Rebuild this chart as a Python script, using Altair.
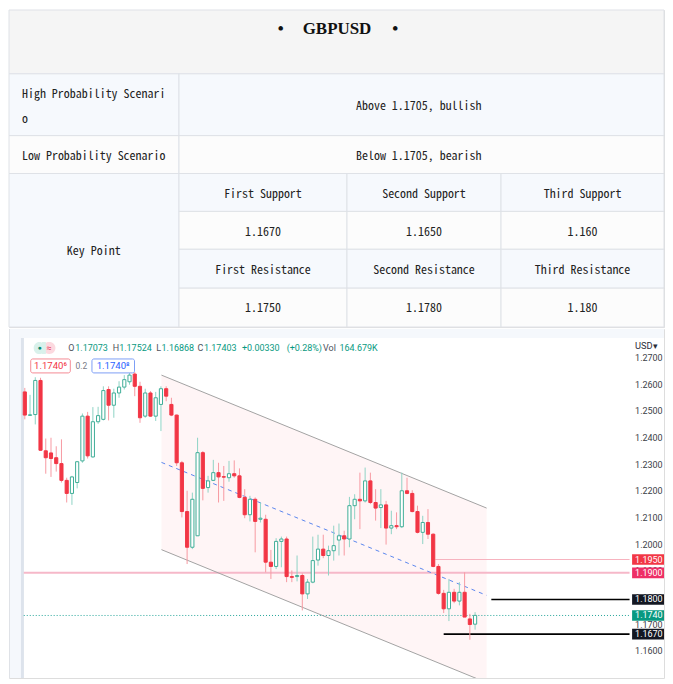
import altair as alt
import pandas as pd

# ---------------- table content ----------------
title_text = "GBPUSD"
row_labels = ["High Probability Scenari", "o", "Low Probability Scenario", "Key Point"]
scenario_values = ["Above 1.1705, bullish", "Below 1.1705, bearish"]
support_labels = ["First Support", "Second Support", "Third Support"]
support_values = ["1.1670", "1.1650", "1.160"]
resistance_labels = ["First Resistance", "Second Resistance", "Third Resistance"]
resistance_values = ["1.1750", "1.1780", "1.180"]

# ---------------- candle data ----------------
opens = [1.2579, 1.2491, 1.2494, 1.2622, 1.2358, 1.2350, 1.2332, 1.2310, 1.2247, 1.2198,
         1.2239, 1.2320, 1.2488, 1.2335, 1.2467, 1.2476, 1.2588, 1.2529, 1.2575, 1.2597,
         1.2617, 1.2646, 1.2600, 1.2488, 1.2575, 1.2488, 1.2532, 1.2591, 1.2532, 1.2492,
         1.2313, 1.2130, 1.1996, 1.2039, 1.2351, 1.2220, 1.2247, 1.2276, 1.2261, 1.2257,
         1.2272, 1.2264, 1.2183, 1.2118, 1.2176, 1.2101, 1.2101, 1.1940, 1.1924, 1.2018,
         1.2027, 1.1886, 1.1886, 1.1890, 1.1821, 1.1865, 1.1948, 1.1989, 1.1965, 1.1983,
         1.2023, 1.2039, 1.2027, 1.2152, 1.2176, 1.2170, 1.2245, 1.2164, 1.2145, 1.2155,
         1.2068, 1.2077, 1.2073, 1.2208, 1.2198, 1.2130, 1.2052, 1.2089, 1.2045, 1.1924,
         1.1823, 1.1765, 1.1827, 1.1794, 1.1827, 1.1727, 1.17073]
highs = [1.2594, 1.2568, 1.2634, 1.2632, 1.2404, 1.2407, 1.2375, 1.2401, 1.2257, 1.2264,
         1.2320, 1.2498, 1.2504, 1.2522, 1.2523, 1.2600, 1.2600, 1.2591, 1.2619, 1.2642,
         1.2654, 1.2654, 1.2617, 1.2591, 1.2582, 1.2579, 1.2600, 1.2600, 1.2557, 1.2494,
         1.2320, 1.2208, 1.2201, 1.2407, 1.2357, 1.2264, 1.2324, 1.2313, 1.2301, 1.2320,
         1.2322, 1.2292, 1.2214, 1.2189, 1.2183, 1.2164, 1.2118, 1.1986, 1.2030, 1.2036,
         1.2036, 1.1909, 1.1965, 1.1898, 1.1877, 1.2036, 1.2043, 1.2043, 1.2002, 1.2077,
         1.2085, 1.2058, 1.2185, 1.2195, 1.2276, 1.2295, 1.2276, 1.2214, 1.2214, 1.2170,
         1.2133, 1.2127, 1.2276, 1.2257, 1.2210, 1.2152, 1.2114, 1.2139, 1.2048, 1.1933,
         1.1836, 1.1877, 1.1840, 1.1865, 1.1902, 1.1746, 1.17524]
lows = [1.2476, 1.2489, 1.2457, 1.2358, 1.2272, 1.2260, 1.2280, 1.2239, 1.2164, 1.2155,
        1.2217, 1.2313, 1.2329, 1.2332, 1.2459, 1.2472, 1.2472, 1.2482, 1.2557, 1.2588,
        1.2606, 1.2563, 1.2463, 1.2482, 1.2485, 1.2470, 1.2432, 1.2544, 1.2488, 1.2301,
        1.2108, 1.1933, 1.1989, 1.2039, 1.2172, 1.2201, 1.2245, 1.2164, 1.2170, 1.2242,
        1.2257, 1.2180, 1.2105, 1.2093, 1.1977, 1.2089, 1.1902, 1.1877, 1.1914, 1.1921,
        1.1865, 1.1865, 1.1868, 1.1759, 1.1802, 1.1861, 1.1927, 1.1955, 1.1890, 1.1946,
        1.1965, 1.1965, 1.1996, 1.2101, 1.2064, 1.2164, 1.2158, 1.2096, 1.2068, 1.2006,
        1.2045, 1.2064, 1.2068, 1.2195, 1.2127, 1.2048, 1.2008, 1.2027, 1.1921, 1.1818,
        1.1749, 1.1719, 1.1786, 1.1778, 1.1734, 1.1649, 1.16868]
closes = [1.2492, 1.2493, 1.2622, 1.2360, 1.2332, 1.2329, 1.2310, 1.2247, 1.2198, 1.2260,
          1.2317, 1.2488, 1.2339, 1.2467, 1.2490, 1.2584, 1.2529, 1.2575, 1.2597, 1.2625,
          1.2642, 1.2600, 1.2482, 1.2575, 1.2488, 1.2557, 1.2591, 1.2563, 1.2492, 1.2313,
          1.2130, 1.1996, 1.2176, 1.2351, 1.2217, 1.2245, 1.2276, 1.2260, 1.2259, 1.2272,
          1.2264, 1.2183, 1.2118, 1.2176, 1.2093, 1.2105, 1.1940, 1.1924, 1.2018, 1.2027,
          1.1886, 1.1883, 1.1890, 1.1821, 1.1865, 1.1946, 1.1989, 1.1965, 1.1983, 1.2002,
          1.2039, 1.2027, 1.2152, 1.2176, 1.2170, 1.2245, 1.2164, 1.2143, 1.2155, 1.2068,
          1.2077, 1.2073, 1.2208, 1.2198, 1.2130, 1.2052, 1.2089, 1.2045, 1.1924, 1.1823,
          1.1765, 1.1827, 1.1794, 1.1827, 1.1734, 1.1706, 1.17403]

# channel (bar index, upper price, lower price)
channel_x = [26.1, 88.2]
channel_top = [1.2642, 1.2143]
channel_bot = [1.1987, 1.1488]

# horizontal levels
level_prices = [1.1950, 1.1900, 1.1800, 1.1740, 1.1670]
level_labels = ["1.1950", "1.1900", "1.1800", "1.1740", "1.1670"]
level_start = [78.4, -0.2, 89.1, -0.2, 80.0]
level_box = ["#f23645", "#ee2f66", "#131722", "#089981", "#131722"]

tick_values = [1.27, 1.26, 1.25, 1.24, 1.23, 1.22, 1.21, 1.20, 1.19, 1.18, 1.17, 1.16]

legend_parts = [("O", 59.5, "#50535e"), ("1.17073", 66.5, "#089981"),
                ("H", 104.0, "#50535e"), ("1.17524", 110.5, "#089981"),
                ("L", 147.7, "#50535e"), ("1.16868", 153.0, "#089981"),
                ("C", 189.0, "#50535e"), ("1.17403", 195.5, "#089981"),
                ("+0.00330", 233.6, "#089981"), ("(+0.28%)", 278.5, "#089981"),
                ("Vol", 315.0, "#50535e"), ("164.679K", 331.5, "#089981")]

TEAL = "#3fae98"
RED = "#f23645"
BORDER = "#dfe2e7"
MONO = "Noto Sans Mono CJK SC, Liberation Mono, monospace"

# ================= TABLE =================
W = 657
TH = 318
col_edges = [0, 170.5, 339, 493.5, 657]
row_edges = [0, 64, 126, 164, 202, 240, 279, 318]
LB = "#f6f9fd"
WH = "#fcfcfc"

cells = [
    (0, W, row_edges[0], row_edges[1], "#f5f5f5"),
    (0, col_edges[1], row_edges[1], row_edges[2], LB),
    (col_edges[1], W, row_edges[1], row_edges[2], LB),
    (0, col_edges[1], row_edges[2], row_edges[3], WH),
    (col_edges[1], W, row_edges[2], row_edges[3], WH),
    (0, col_edges[1], row_edges[3], row_edges[7], LB),
]
for r in range(4):
    for c in range(3):
        cells.append((col_edges[c + 1], col_edges[c + 2], row_edges[3 + r], row_edges[4 + r],
                      LB if r % 2 == 0 else WH))
cells_df = pd.DataFrame(cells, columns=["x", "x2", "y", "y2", "fill"])

tx = alt.Scale(domain=[0, W], nice=False, zero=False)
ty = alt.Scale(domain=[0, TH], nice=False, zero=False, reverse=True)

cell_layer = alt.Chart(cells_df).mark_rect(stroke=BORDER, strokeWidth=1).encode(
    x=alt.X("x:Q", scale=tx, axis=None), x2="x2:Q",
    y=alt.Y("y:Q", scale=ty, axis=None), y2="y2:Q",
    fill=alt.Fill("fill:N", scale=None),
)

ccent = [(col_edges[c + 1] + col_edges[c + 2]) / 2 for c in range(3)]
texts = [
    (row_labels[0], 13, 84, "left"),
    (row_labels[1], 13, 109, "left"),
    (row_labels[2], 85, 146, "center"),
    (row_labels[3], 85, 242, "center"),
    (scenario_values[0], 411, 96, "center"),
    (scenario_values[1], 411, 146, "center"),
]
for c in range(3):
    texts.append((support_labels[c], ccent[c], 185, "center"))
    texts.append((support_values[c], ccent[c], 223, "center"))
    texts.append((resistance_labels[c], ccent[c], 261, "center"))
    texts.append((resistance_values[c], ccent[c], 299, "center"))
text_df = pd.DataFrame(texts, columns=["t", "x", "y", "align"])

text_layers = []
for al in ["left", "center"]:
    text_layers.append(
        alt.Chart(text_df[text_df["align"] == al]).mark_text(
            align=al, baseline="middle", font=MONO, fontSize=12, color="#222222"
        ).encode(x=alt.X("x:Q", scale=tx, axis=None), y=alt.Y("y:Q", scale=ty, axis=None), text="t:N")
    )

title_df = pd.DataFrame({"t": ["•", title_text, "•"], "x": [272.5, 329, 387.5], "y": [19, 19, 19]})
title_layer = alt.Chart(title_df).mark_text(
    align="center", baseline="middle", font="Liberation Serif, serif",
    fontSize=17, fontWeight="bold", color="#111111"
).encode(x=alt.X("x:Q", scale=tx, axis=None), y=alt.Y("y:Q", scale=ty, axis=None), text="t:N")

table = alt.layer(cell_layer, *text_layers, title_layer).properties(width=W, height=TH)

# ================= CANDLE CHART =================
CH = 350
xs = alt.Scale(domain=[-3.02, 122.08], nice=False, zero=False)
ys = alt.Scale(domain=[1.15054, 1.28149], nice=False, zero=False)

one = pd.DataFrame({"a": [0]})

def box(x, x2, y, y2, color, **kw):
    return alt.Chart(one).mark_rect(color=color, **kw).encode(
        x=alt.value(x), x2=alt.value(x2), y=alt.value(y), y2=alt.value(y2))

frame = [
    box(0, W, 0, CH, "#f5f8fc"),
    box(0, 1, 0, CH, BORDER),
    box(12, 15, 9, CH, "#dde3ec"),
    box(15, W, 9, CH, "#ffffff"),
]

chan_df = pd.DataFrame({"i": channel_x, "top": channel_top, "bot": channel_bot})
chan_df["mid"] = (chan_df["top"] + chan_df["bot"]) / 2
chan_area = alt.Chart(chan_df).mark_area(color="#fff5f6", clip=True).encode(
    x=alt.X("i:Q", scale=xs, axis=None), y=alt.Y("top:Q", scale=ys, axis=None), y2="bot:Q")
chan_top_l = alt.Chart(chan_df).mark_line(color="#a3a3a3", strokeWidth=1, clip=True).encode(
    x=alt.X("i:Q", scale=xs, axis=None), y=alt.Y("top:Q", scale=ys, axis=None))
chan_bot_l = alt.Chart(chan_df).mark_line(color="#a3a3a3", strokeWidth=1, clip=True).encode(
    x=alt.X("i:Q", scale=xs, axis=None), y=alt.Y("bot:Q", scale=ys, axis=None))
chan_mid_l = alt.Chart(chan_df).mark_line(color="#5b87ee", strokeWidth=1, strokeDash=[4, 4], clip=True).encode(
    x=alt.X("i:Q", scale=xs, axis=None), y=alt.Y("mid:Q", scale=ys, axis=None))

lv = pd.DataFrame({"p": level_prices, "s": level_start, "e": [115.5] * 5,
                   "lab": level_labels, "box": level_box})
lv["top"] = lv["p"] + 0.0020
lv["bot"] = lv["p"] - 0.0020

def level_rule(idx, color, width, dash=None):
    kw = dict(color=color, strokeWidth=width)
    if dash:
        kw["strokeDash"] = dash
    return alt.Chart(lv.iloc[[idx]]).mark_rule(**kw).encode(
        x=alt.X("s:Q", scale=xs, axis=None), x2="e:Q", y=alt.Y("p:Q", scale=ys, axis=None))

levels = [
    level_rule(0, "#f7b3bf", 1),
    level_rule(1, "#f6b8c9", 2),
    level_rule(2, "#000000", 1.6),
    level_rule(3, "#26a69a", 1, [1, 2]),
    level_rule(4, "#000000", 1.6),
]

cd = pd.DataFrame({"i": list(range(len(opens))), "open": opens, "high": highs,
                   "low": lows, "close": closes})
cd["dir"] = ["up" if c >= o else "down" for o, c in zip(cd["open"], cd["close"])]
cd["blo"] = cd[["open", "close"]].min(axis=1)
cd["bhi"] = cd[["open", "close"]].max(axis=1)
cd["x0"] = cd["i"] - 0.3
cd["x1"] = cd["i"] + 0.3

wicks = alt.Chart(cd).mark_rule(strokeWidth=1).encode(
    x=alt.X("i:Q", scale=xs, axis=None), y=alt.Y("low:Q", scale=ys, axis=None), y2="high:Q",
    color=alt.Color("dir:N", scale=alt.Scale(domain=["up", "down"], range=["#8fd3c5", "#f79aa2"]), legend=None))
bodies = alt.Chart(cd).mark_rect(strokeWidth=1).encode(
    x=alt.X("x0:Q", scale=xs, axis=None), x2="x1:Q",
    y=alt.Y("blo:Q", scale=ys, axis=None), y2="bhi:Q",
    fill=alt.Fill("dir:N", scale=alt.Scale(domain=["up", "down"], range=["#ffffff", RED]), legend=None),
    stroke=alt.Stroke("dir:N", scale=alt.Scale(domain=["up", "down"], range=[TEAL, RED]), legend=None))

ticks_df = pd.DataFrame({"p": tick_values})
tick_text = alt.Chart(ticks_df).mark_text(
    align="left", baseline="middle", font="Roboto", fontSize=9, color="#3b3e46", dy=-1.5
).encode(x=alt.value(628), y=alt.Y("p:Q", scale=ys, axis=None), text=alt.Text("p:Q", format=".4f"))

tag_boxes = alt.Chart(lv).mark_rect().encode(
    x=alt.value(625), x2=alt.value(W), y=alt.Y("top:Q", scale=ys, axis=None), y2="bot:Q",
    fill=alt.Fill("box:N", scale=None))
tag_text = alt.Chart(lv).mark_text(
    align="left", baseline="middle", font="Roboto", fontSize=9, color="white"
).encode(x=alt.value(628), y=alt.Y("p:Q", scale=ys, axis=None), text="lab:N")

def txt(t, x, y, color, size=9, align="left", weight="normal"):
    return alt.Chart(one).mark_text(
        text=t, align=align, baseline="middle", font="Roboto", fontSize=size,
        color=color, fontWeight=weight).encode(x=alt.value(x), y=alt.value(y))

legend = [
    box(24.8, 36, 13, 25, "#d9f1eb", cornerRadius=6),
    box(34, 46.6, 13, 25, "#fcd9df", cornerRadius=6),
    box(33, 37, 13, 25, "#d9f1eb"),
    txt("●", 30.6, 19, "#0b8a70", size=7, align="center"),
    txt("≈", 40.4, 19, "#e8405e", size=9, align="center"),
    txt("USD▾", 628, 17, "#2a2e39", size=9.3),
    box(21.8, 61.5, 30, 44, "#ffffff", stroke="#f48b95", strokeWidth=1, cornerRadius=2),
    txt("1.1740⁶", 41.6, 37.3, "#f23645", size=9.6, align="center"),
    txt("0.2", 72.5, 37.3, "#787b86", size=8.5, align="center"),
    box(83.2, 125.9, 30, 44, "#ffffff", stroke="#7d9ff5", strokeWidth=1, cornerRadius=2),
    txt("1.1740⁸", 104.5, 37.3, "#2962ff", size=9.6, align="center"),
]
for t, x, c in legend_parts:
    legend.append(txt(t, x, 19, c))

candle_chart = alt.layer(
    *frame, chan_area, *levels, chan_top_l, chan_bot_l, chan_mid_l, wicks, bodies,
    tick_text, tag_boxes, tag_text, *legend
).properties(width=W, height=CH)

chart = alt.vconcat(table, candle_chart, spacing=0).properties(padding=0).configure_view(
    strokeWidth=0).configure(background="white")

chart.save("out.html", embed_options={"renderer": "svg", "actions": False})
